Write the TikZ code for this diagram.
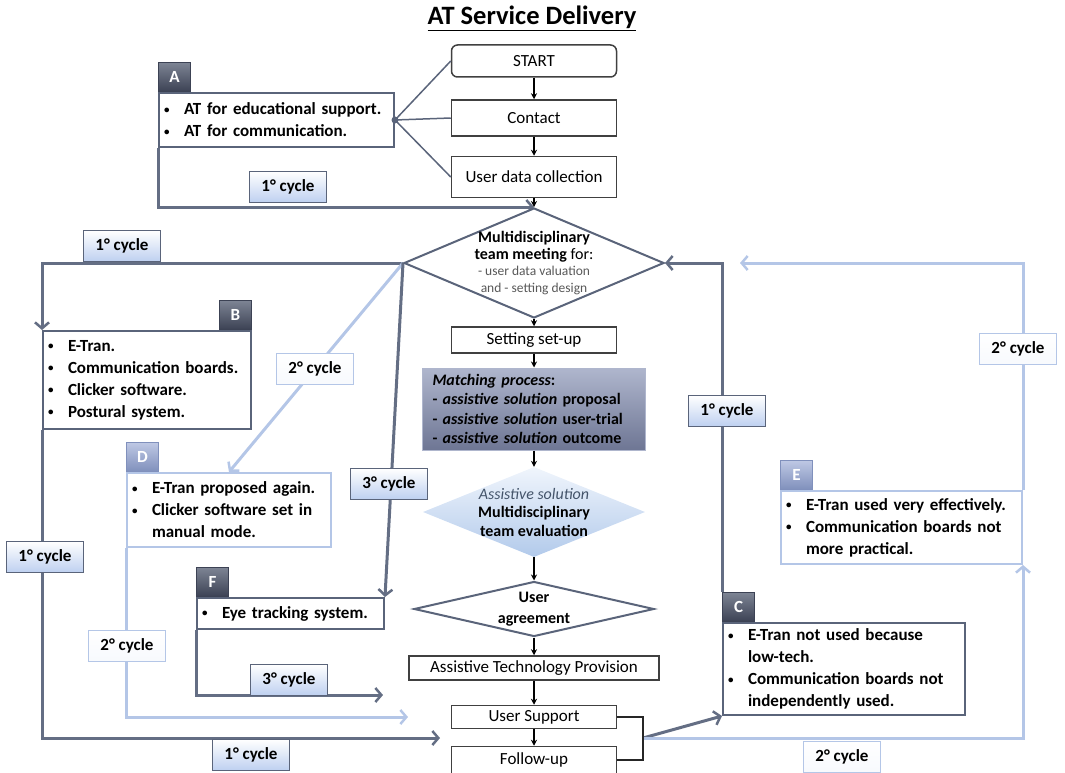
\documentclass[tikz,border=0pt]{standalone}
\usepackage{fontspec}
\setmainfont{Carlito}
\usetikzlibrary{backgrounds, shapes.geometric, positioning, arrows.meta}

\definecolor{slate}{RGB}{90,100,122}
\definecolor{cycdark}{RGB}{100,110,132}
\definecolor{cyclight}{RGB}{180,198,231}
\definecolor{flowgray}{RGB}{64,64,64}
\definecolor{headtop}{RGB}{125,132,148}
\definecolor{headbot}{RGB}{60,66,84}
\definecolor{headltop}{RGB}{190,200,228}
\definecolor{headlbot}{RGB}{128,144,188}
\definecolor{labblue}{RGB}{190,208,240}
\definecolor{matchtop}{RGB}{175,182,205}
\definecolor{matchbot}{RGB}{110,118,148}
\definecolor{evaltop}{RGB}{240,245,252}
\definecolor{evalbot}{RGB}{178,202,235}
\definecolor{evaltext}{RGB}{68,84,106}
\definecolor{smalltext}{RGB}{89,89,89}

\newcommand{\bul}{\makebox[20pt][l]{\raisebox{1.5pt}{\fontsize{11}{11}\selectfont\textbullet}}}
\newcommand{\ind}{\hspace*{20pt}}

\begin{document}
\begin{tikzpicture}[
          x=1pt, y=-1pt,
          flowbox/.style={draw=flowgray, line width=1.5pt, fill=white, minimum width=165pt, inner sep=2pt, font=\fontsize{17}{20}\selectfont},
          flowarrow/.style={draw=black, line width=1.4pt, -{Stealth[length=6pt,width=6pt]}},
          notebox/.style={draw=slate, line width=2pt, fill=white, anchor=north west, align=left, text width=#1, inner xsep=5pt, inner ysep=2pt, font=\bfseries\fontsize{17}{22}\selectfont},
          lightbox/.style={draw=cyclight},
          darkhead/.style={draw=headbot, line width=1pt, top color=headtop, bottom color=headbot, text=white, anchor=south west, minimum width=32pt, minimum height=29pt, inner sep=0pt, font=\bfseries\fontsize{17}{20}\selectfont},
          lighthead/.style={darkhead, draw=headlbot, top color=headltop, bottom color=headlbot},
          cyclab/.style={draw=slate, line width=1.5pt, top color=white, bottom color=labblue, minimum width=77pt, minimum height=31pt, inner sep=0pt, font=\bfseries\fontsize{17}{20}\selectfont},
          cyclablight/.style={cyclab, draw=cyclight, top color=white, bottom color=white!88!labblue},
          darkline/.style={draw=cycdark, line width=3pt, -{Straight Barb[length=6pt,width=14pt,line width=2.5pt]}},
          lightline/.style={darkline, draw=cyclight},
          meetdiamond/.style={diamond, draw=slate, line width=2pt, fill=white, inner sep=0pt, minimum width=260pt, minimum height=110pt},
          evaldiamond/.style={diamond, top color=evaltop, bottom color=evalbot, inner sep=0pt, minimum width=222pt, minimum height=90pt},
          agreediamond/.style={diamond, draw=slate, line width=2pt, fill=white, inner sep=0pt, minimum width=240pt, minimum height=55pt}
        ]
  \useasboundingbox (0,0) rectangle (1065,773);

  \node[font=\bfseries\fontsize{26.5}{30}\selectfont] (title) at (532,18) {\underline{AT Service Delivery}};

  % main flow
  \node[flowbox, rounded corners=6pt, minimum height=32pt] (start) at (534,61) {START};
  \node[flowbox, minimum height=36pt] (contact) at (534,118) {Contact};
  \node[flowbox, minimum height=41pt] (userdata) at (534,177) {User data collection};
  \node[meetdiamond] (meeting) at (534,263) {};
  \node[align=center, text=smalltext, font=\fontsize{13.5}{16.5}\selectfont] (meetingtext) at (meeting.center)
    {{\color{black}\bfseries\fontsize{16}{16}\selectfont Multidisciplinary}\\
     {\color{black}\fontsize{16}{16}\selectfont\textbf{team meeting} for:}\\
     - user data valuation\\ and - setting design};
  \node[flowbox, minimum height=26pt] (setup) at (534,340) {Setting set-up};
  \node[draw=matchtop, line width=1pt, top color=matchtop, bottom color=matchbot, minimum width=223pt, minimum height=82pt,
        text width=203pt, inner xsep=10pt, align=left, font=\bfseries\fontsize{16}{19.5}\selectfont] (matching) at (534,409)
    {{\itshape Matching process}:\\
     - {\itshape assistive solution} proposal\\
     - {\itshape assistive solution} user-trial\\
     - {\itshape assistive solution} outcome};
  \node[evaldiamond] (evaluation) at (534,512) {};
  \node[align=center, font=\fontsize{16}{18.5}\selectfont] (evaluationtext) at (evaluation.center)
    {{\color{evaltext}\itshape Assistive solution}\\ \textbf{Multidisciplinary}\\ \textbf{team evaluation}};
  \node[agreediamond] (agreement) at (534,609) {};
  \node[align=center, font=\bfseries\fontsize{16}{21}\selectfont] (agreementtext) at (agreement.center) {User\\ agreement};
  \node[flowbox, minimum width=250pt, minimum height=24pt] (provision) at (534,668) {Assistive Technology Provision};
  \node[flowbox, minimum height=23pt] (support) at (534,717) {User Support};
  \node[flowbox, minimum height=27pt] (followup) at (534,760) {Follow-up};

  \draw[flowarrow] (start) -- (contact);
  \draw[flowarrow] (contact) -- (userdata);
  \draw[flowarrow] (userdata) -- (meeting);
  \draw[flowarrow] (meeting) -- (setup);
  \draw[flowarrow] (setup) -- (matching);
  \draw[flowarrow] (matching) -- (evaluation);
  \draw[flowarrow] (evaluation) -- (agreement);
  \draw[flowarrow] (agreement) -- (provision);
  \draw[flowarrow] (provision) -- (support);
  \draw[flowarrow] (support) -- (followup);
  \coordinate (brk) at (643,738);
  \draw[draw=black!85, line width=2pt] (support.east) -| (brk) |- (followup.east);

  % note boxes
  \node[notebox=225pt, minimum height=54pt] (abox) at (158,92)
    {\bul AT for educational support.\\ \bul AT for communication.};
  \node[darkhead] (ahead) at (abox.north west) {A};
  \node[notebox=198pt, minimum height=98pt] (bbox) at (42,330)
    {\bul E-Tran.\\ \bul Communication boards.\\ \bul Clicker software.\\ \bul Postural system.};
  \node[darkhead, anchor=south east] (bhead) at (bbox.north east) {B};
  \node[notebox=232pt, minimum height=92pt] (cbox) at (722,622)
    {\bul E-Tran not used because\\ \ind low-tech.\\ \bul Communication boards not\\ \ind independently used.};
  \node[darkhead] (chead) at (cbox.north west) {C};
  \node[notebox=194pt, lightbox, minimum height=74pt] (dbox) at (126,472)
    {\bul E-Tran proposed again.\\ \bul Clicker software set in\\ \ind manual mode.};
  \node[lighthead] (dhead) at (dbox.north west) {D};
  \node[notebox=231pt, lightbox, minimum height=73pt] (ebox) at (780,490)
    {\bul E-Tran used very effectively.\\ \bul Communication boards not\\ \ind more practical.};
  \node[lighthead] (ehead) at (ebox.north west) {E};
  \node[notebox=177pt, minimum height=31pt] (fbox) at (196,597) {\bul Eye tracking system.};
  \node[darkhead] (fhead) at (fbox.north west) {F};

  % links from A
  \draw[draw=slate, line width=1.5pt] (abox.east) -- (start.west);
  \draw[draw=slate, line width=1.5pt] (abox.east) -- (contact.west);
  \draw[draw=slate, line width=1.5pt] (abox.east) -- (userdata.west);
  \fill[slate] (abox.east) circle (3.5pt);

  % cycle labels
  \node[cyclab] (cyclea) at (288,187) {1° cycle};
  \node[cyclab] (cycleb) at (122,246) {1° cycle};
  \node[cyclab] (cyclebdown) at (45,557) {1° cycle};
  \node[cyclab] (cyclebottom) at (251,755) {1° cycle};
  \node[cyclab] (cyclec) at (727,411) {1° cycle};
  \node[cyclablight] (cycled) at (315,369) {2° cycle};
  \node[cyclablight] (cycledown) at (127,646) {2° cycle};
  \node[cyclablight] (cyclee) at (842,757) {2° cycle};
  \node[cyclablight] (cycleeup) at (1018,349) {2° cycle};
  \node[cyclab] (cyclef) at (389,484) {3° cycle};
  \node[cyclab] (cyclefdown) at (289,680) {3° cycle};

  % cycle connectors
  \coordinate (backb) at (440,738);
  \coordinate (backd) at (408,717);
  \coordinate (backf) at (383,695);
  \coordinate (backe) at (740,263);
  \begin{scope}[on background layer]
    \draw[darkline] (abox.south west) |- (meeting.north);
    \draw[darkline] (meeting.west) -| (bbox.north west);
    \draw[darkline] (bbox.south west) |- (backb);
    \draw[lightline] (meeting.west) -- (dbox.north);
    \draw[lightline] (dbox.south west) |- (backd);
    \draw[darkline] (meeting.west) -- (fbox.north east);
    \draw[darkline] (fbox.south west) |- (backf);
    \draw[darkline] (chead.north west) |- (meeting.east);
    \draw[darkline] (brk) -- (cbox.south west);
    \draw[lightline] (brk) -| (ebox.south east);
    \draw[lightline] (ebox.north east) |- (backe);
  \end{scope}
\end{tikzpicture}
\end{document}
